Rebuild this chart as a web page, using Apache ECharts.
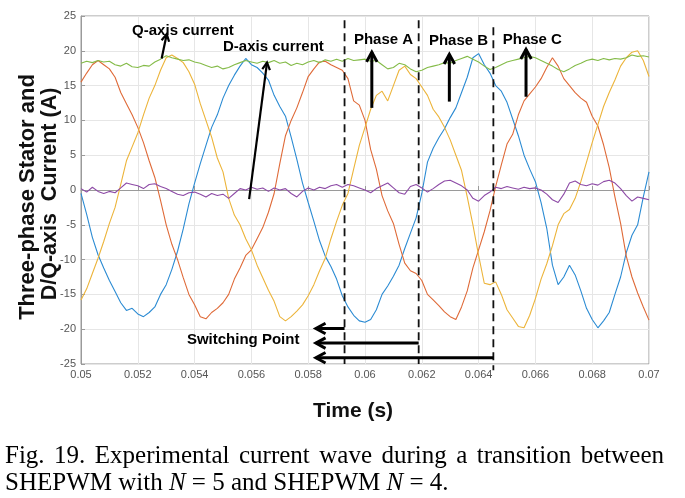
<!DOCTYPE html>
<html><head><meta charset="utf-8">
<script src="https://cdn.jsdelivr.net/npm/echarts/dist/echarts.min.js"></script>
<style>html,body{margin:0;padding:0;background:#fff}#c{width:685px;height:498px}</style>
</head><body><div id="c"></div>
<script>
// sampling grid of the read values
const T_START = 0.05, T_STEP = 0.0002;
// three-phase stator currents (A), read at each sample
const ia = [-0.5,-3.5,-6.8,-9.3,-11.2,-13.0,-14.6,-16.2,-17.3,-17.0, -17.8,-18.2,-17.6,-16.8,-15.0,-13.6,-11.4,-8.8,-5.6,-2.0, 1.0,3.8,6.4,9.0,10.8,13.2,15.0,16.5,17.8,18.9, 18.0,17.6,16.8,15.8,13.6,12.0,10.6,7.6,4.4,1.0, -1.8,-4.5,-7.3,-9.5,-11.0,-12.8,-15.2,-16.8,-18.0,-18.8, -19.0,-18.6,-17.2,-15.0,-13.8,-12.4,-10.8,-8.4,-6.2,-4.0, -0.5,4.0,6.0,7.5,8.8,10.4,11.8,14.0,16.2,19.0, 19.6,18.0,16.8,15.0,14.2,12.6,10.2,7.8,5.0,3.0, 1.2,-1.8,-5.5,-10.8,-13.6,-12.5,-10.8,-12.2,-14.5,-17.0, -18.6,-19.8,-18.8,-17.6,-15.0,-12.5,-9.0,-6.5,-5.0,-1.0, 2.6];
const ib = [15.5,16.8,18.0,18.6,18.0,17.4,16.2,14.0,12.4,10.8, 9.0,6.8,4.2,1.8,-1.5,-5.0,-7.8,-10.0,-12.6,-15.0, -16.5,-18.2,-18.5,-17.6,-17.0,-16.2,-15.0,-12.8,-11.2,-9.4, -8.6,-7.0,-5.4,-3.2,-0.5,3.8,7.8,10.0,11.8,14.0, 16.3,17.4,18.4,18.5,18.0,17.6,17.2,16.0,12.8,12.2, 10.0,5.8,3.0,-0.8,-3.0,-4.8,-7.8,-10.5,-11.6,-12.0, -13.0,-15.0,-15.8,-16.6,-17.5,-18.2,-18.6,-16.8,-14.5,-11.2, -8.6,-6.0,-3.0,0.5,3.6,6.6,8.0,10.8,12.8,13.8, 14.8,16.0,17.6,19.0,17.8,16.0,15.0,14.0,13.2,12.6, 10.6,9.2,6.5,3.2,-1.0,-4.8,-9.5,-12.5,-14.8,-16.8, -18.7];
const ic = [-15.8,-14.2,-12.0,-9.8,-7.4,-4.8,-2.5,0.8,4.2,6.2, 8.2,10.8,13.2,15.0,17.2,19.0,19.4,18.9,18.3,17.0, 15.2,12.4,10.0,7.6,4.6,2.6,-1.2,-3.6,-5.0,-7.0, -8.6,-10.8,-12.6,-14.4,-16.0,-18.2,-18.8,-18.2,-17.4,-16.5, -15.2,-13.6,-11.6,-9.8,-7.0,-4.5,-2.2,-0.5,3.0,6.4, 9.0,11.6,13.6,14.2,12.8,15.0,17.2,17.8,16.6,16.0, 14.8,13.6,11.6,10.5,9.0,7.2,5.0,2.8,-1.0,-5.0, -9.4,-13.4,-13.6,-13.2,-15.0,-17.2,-18.4,-19.6,-19.8,-18.0, -15.6,-12.8,-10.6,-8.0,-5.0,-3.4,-2.8,-1.2,1.2,4.0, 6.8,9.4,12.0,14.0,15.8,17.8,19.0,19.8,20.0,18.6, 16.3];
// D-axis and Q-axis currents (A)
const id = [0.2,-0.3,0.4,-0.2,-0.5,-0.2,-0.4,0.3,1.0,0.8, 0.6,0.2,0.8,0.9,0.5,0.2,-0.2,-0.6,-0.8,-0.4, -0.3,-0.6,-1.0,-0.5,-0.8,-0.6,-1.2,-0.5,0.2,0.0, 0.4,0.1,0.3,-0.2,0.3,0.0,0.2,-0.5,-1.0,-0.2, 0.3,0.0,0.4,0.2,0.6,0.8,0.4,0.8,0.6,0.3, 0.0,-0.4,0.2,0.6,1.0,0.3,-0.4,-0.6,0.5,0.8, 0.3,-0.3,0.2,0.8,1.3,1.4,1.0,0.6,0.0,-1.2, -1.6,-0.8,-0.3,0.4,0.2,0.5,0.3,0.1,0.4,0.2, 0.3,0.0,-0.6,-1.4,-1.8,-0.6,1.0,1.3,0.8,0.6, 0.9,0.7,1.2,1.4,1.0,0.2,-0.8,-1.6,-1.0,-1.2, -1.4];
const iq = [18.2,18.5,18.3,18.6,18.4,18.5,18.0,17.8,18.2,17.7, 17.6,17.9,17.8,18.4,18.8,19.3,19.0,18.8,18.6,18.7, 18.4,18.2,17.9,17.6,17.8,17.4,17.6,18.0,18.3,18.6, 18.4,18.2,18.5,18.3,18.6,18.2,18.4,17.9,18.2,18.0, 18.4,18.6,18.3,18.7,18.5,18.8,18.5,18.9,18.6,18.7, 18.8,18.5,18.6,18.0,17.4,17.6,18.2,18.0,17.4,17.0, 17.2,17.6,17.8,18.0,18.3,18.2,18.6,18.9,19.2,18.8, 18.4,17.8,17.3,17.6,18.0,18.4,18.6,18.8,19.0,19.2, 19.0,18.6,18.2,17.8,17.3,17.0,17.4,17.9,18.2,18.6, 18.8,18.6,18.9,18.7,18.9,18.8,19.0,19.4,19.2,19.3, 19.1];

// switching instants (s)
const switchTimes = [0.05928, 0.06189, 0.06452];
// annotation texts and their anchor points [time, current]
const labelTexts = ['Q-axis current','D-axis current','Phase A','Phase B','Phase C','Switching Point'];
const labelAnchors = [[0.05180,22.85],[0.05500,20.6],[0.05961,21.6],[0.06225,21.5],[0.06485,21.6],[0.05373,-21.6]];
// arrows [from, to] in data units
const arrowsData = [
  [[0.05284,18.9],[0.05302,22.4]],
  [[0.05592,-1.3],[0.05655,18.3]],
  [[0.06024,11.8],[0.06024,19.8]],
  [[0.06297,12.7],[0.06297,19.5]],
  [[0.06567,13.4],[0.06567,20.2]],
  [[0.05928,-19.9],[0.05827,-19.9]],
  [[0.06189,-22.0],[0.05827,-22.0]],
  [[0.06452,-24.1],[0.05827,-24.1]]
];
const yTitle1 = 'Three-phase Stator and';
const yTitle2 = 'D/Q-axis  Current (A)';
const captionLine1 = 'Fig. 19. Experimental current wave during a transition between';
const captionLine2 = '{r|SHEPWM with }{i|N}{r| = 5 and SHEPWM }{i|N}{r| = 4.}';

function pairs(arr){ return arr.map((v,i)=>[+(T_START + i*T_STEP).toFixed(5), v]); }

const chart = echarts.init(document.getElementById('c'), null, {renderer:'canvas'});
const colors = ['#2b8bd3','#df6a38','#ecb43a','#8d4aa6','#84bb48'];
const mk = (name, d, c) => ({name, type:'line', data: pairs(d), showSymbol:false, symbol:'none',
  lineStyle:{width:1.1, color:c}, itemStyle:{color:c}, animation:false, silent:true});

chart.setOption({
  animation:false,
  backgroundColor:'#fff',
  grid:{left:81, right:36, top:16, bottom:134, show:true, borderColor:'#9a9a9a', borderWidth:1, outerBoundsMode:'none', containLabel:false},
  xAxis:{type:'value', min:0.05, max:0.07, interval:0.002,
    name:'Time (s)', nameLocation:'middle', nameGap:37,
    nameTextStyle:{fontFamily:'Liberation Sans', fontWeight:'bold', fontSize:21, color:'#111', padding:[0,24,0,0]},
    axisLine:{lineStyle:{color:'#9a9a9a'}}, axisTick:{inside:true, length:4, lineStyle:{color:'#9a9a9a'}},
    axisLabel:{fontFamily:'Liberation Sans', fontSize:11, color:'#555', margin:5, formatter:v=>String(+v.toFixed(3))},
    splitLine:{lineStyle:{color:'#e6e6e6'}}},
  yAxis:{type:'value', min:-25, max:25, interval:5,
    axisLine:{lineStyle:{color:'#9a9a9a'}}, axisTick:{inside:true, length:4, lineStyle:{color:'#9a9a9a'}},
    axisLabel:{fontFamily:'Liberation Sans', fontSize:11, color:'#555', margin:5},
    splitLine:{lineStyle:{color:'#e6e6e6'}}},
  series:[mk('ia',ia,colors[0]), mk('ib',ib,colors[1]), mk('ic',ic,colors[2]), mk('id',id,colors[3]), mk('iq',iq,colors[4])]
});

const P = p => chart.convertToPixel({gridIndex:0}, p);
const g = [];
// y-axis title (two rotated lines)
g.push({type:'text', x:27.5, y:197, rotation:Math.PI/2, style:{text:yTitle1, fill:'#111', font:'bold 22px "Liberation Sans"', align:'center', verticalAlign:'middle'}});
g.push({type:'text', x:50, y:194, rotation:Math.PI/2, style:{text:yTitle2, fill:'#111', font:'bold 21.5px "Liberation Sans"', align:'center', verticalAlign:'middle'}});
// dashed switching lines
switchTimes.forEach((t,k)=>{
  const top = P([t, k===2 ? 23.4 : 24.4]);
  const bot = P([t, k===2 ? -25.9 : -25]);
  g.push({type:'line', shape:{x1:top[0],y1:top[1],x2:bot[0],y2:bot[1]}, style:{stroke:'#111', lineWidth:1.8, lineDash:[8,5]}, z:50});
});
// arrows
arrowsData.forEach(([a,b],k)=>{
  const p1 = P(a), p2 = P(b);
  const w = k<2 ? 2.2 : 3;
  const hl = k<2 ? 8 : 11;
  const ang = Math.atan2(p2[1]-p1[1], p2[0]-p1[0]);
  const s = 0.5;
  const h1 = [p2[0]-hl*Math.cos(ang-s), p2[1]-hl*Math.sin(ang-s)];
  const h2 = [p2[0]-hl*Math.cos(ang+s), p2[1]-hl*Math.sin(ang+s)];
  g.push({type:'line', shape:{x1:p1[0],y1:p1[1],x2:p2[0],y2:p2[1]}, style:{stroke:'#000', lineWidth:w}, z:60});
  g.push({type:'polyline', shape:{points:[h1,p2,h2]}, style:{stroke:'#000', lineWidth:w, fill:null, lineJoin:'miter'}, z:60});
});
// labels
labelTexts.forEach((txt,k)=>{
  const p = P(labelAnchors[k]);
  g.push({type:'text', x:p[0], y:p[1], z:70, style:{text:txt, fill:'#000', font:'bold 15px "Liberation Sans"', align:'left', verticalAlign:'middle'}});
});
// caption, line 1 justified
const cv = document.createElement('canvas').getContext('2d');
const capFont = '25px "Liberation Serif"';
cv.font = capFont;
const words = captionLine1.split(' ');
const widths = words.map(w=>cv.measureText(w).width);
const left = 5, right = 664;
const gap = (right-left - widths.reduce((a,b)=>a+b,0))/(words.length-1);
let x = left;
words.forEach((w,k)=>{
  g.push({type:'text', x:x, y:456, style:{text:w, fill:'#000', font:capFont, align:'left', verticalAlign:'middle'}});
  x += widths[k] + gap;
});
g.push({type:'text', x:left, y:483, style:{text:captionLine2, fill:'#000', font:capFont, align:'left', verticalAlign:'middle',
  rich:{r:{fontFamily:'Liberation Serif', fontSize:25, fill:'#000'}, i:{fontFamily:'Liberation Serif', fontSize:25, fontStyle:'italic', fill:'#000'}}}});
chart.setOption({graphic:{elements:g}});
</script></body></html>
